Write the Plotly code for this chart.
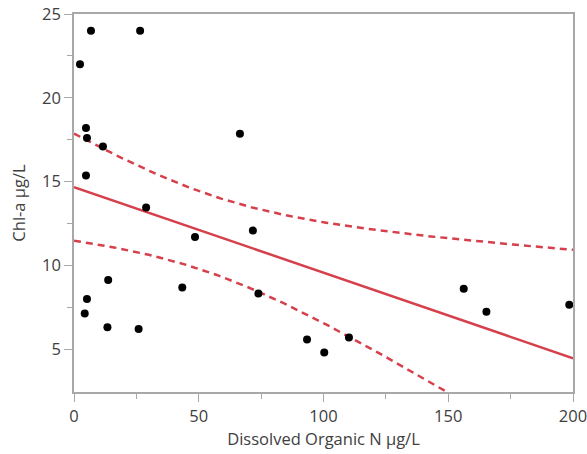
import numpy as np
import plotly.graph_objects as go

# Dissolved organic N (µg/L) and chlorophyll-a (µg/L) observations
don = [2.4, 6.8, 26.5, 4.8, 5.2, 11.6, 4.8, 66.5, 28.9, 48.5, 71.7, 5.2,
       4.3, 13.7, 13.4, 25.9, 43.4, 73.9, 93.4, 100.3, 110.2, 156.2, 165.3, 198.5]
chla = [22.0, 24.0, 24.0, 18.2, 17.6, 17.1, 15.36, 17.86, 13.45, 11.7, 12.08, 8.0,
        7.14, 9.13, 6.31, 6.21, 8.69, 8.32, 5.58, 4.8, 5.7, 8.61, 7.24, 7.66]

x_ticks = [0, 50, 100, 150, 200]
y_ticks = [5, 10, 15, 20, 25]

# Least-squares fit with 95% confidence band for the mean
x = np.array(don)
y = np.array(chla)
n = len(x)
slope, intercept = np.polyfit(x, y, 1)
resid = y - (intercept + slope * x)
s = np.sqrt(np.sum(resid ** 2) / (n - 2))
sxx = np.sum((x - x.mean()) ** 2)
t_crit = 2.074  # t(0.975, df=22)
xf = np.linspace(0, 200, 201)
yf = intercept + slope * xf
half = t_crit * s * np.sqrt(1.0 / n + (xf - x.mean()) ** 2 / sxx)

red = "#D6404C"
fig = go.Figure()
fig.add_trace(go.Scatter(x=xf, y=yf + half, mode="lines",
                         line=dict(color=red, width=2.5, dash="7px,5px"), hoverinfo="skip"))
fig.add_trace(go.Scatter(x=xf, y=yf - half, mode="lines",
                         line=dict(color=red, width=2.5, dash="7px,5px"), hoverinfo="skip"))
fig.add_trace(go.Scatter(x=xf, y=yf, mode="lines",
                         line=dict(color=red, width=2.5), hoverinfo="skip"))
fig.add_trace(go.Scatter(x=don, y=chla, mode="markers",
                         marker=dict(color="black", size=8), cliponaxis=False))

font_family = "Open Sans"
axis_common = dict(
    showgrid=False, zeroline=False, showline=True, linecolor="#A8A8A8", linewidth=1.5,
    mirror=True, ticks="outside", ticklen=8, tickcolor="#A8A8A8", tickwidth=1.2,
    tickfont=dict(family=font_family, size=16.5, color="#404040"),
    automargin=False, ticklabeloverflow="allow",
)
fig.update_xaxes(
    range=[0, 200], tickvals=x_ticks,
    minor=dict(tickvals=[25, 75, 125, 175], ticks="outside", ticklen=5, tickcolor="#A8A8A8"),
    title=dict(text="Dissolved Organic N µg/L",
               font=dict(family=font_family, size=16.5, color="#404040"), standoff=6),
    **axis_common,
)
fig.update_yaxes(
    range=[2.45, 25], tickvals=y_ticks,
    minor=dict(tickvals=[7.5, 12.5, 17.5, 22.5], ticks="outside", ticklen=5, tickcolor="#A8A8A8"),
    title=dict(text="Chl-a µg/L",
               font=dict(family=font_family, size=16.5, color="#404040"), standoff=12),
    **axis_common,
)
fig.update_layout(
    width=587, height=454, showlegend=False,
    paper_bgcolor="white", plot_bgcolor="white",
    margin=dict(l=74, r=14, t=14, b=62),
)
fig.write_html("out.html")
